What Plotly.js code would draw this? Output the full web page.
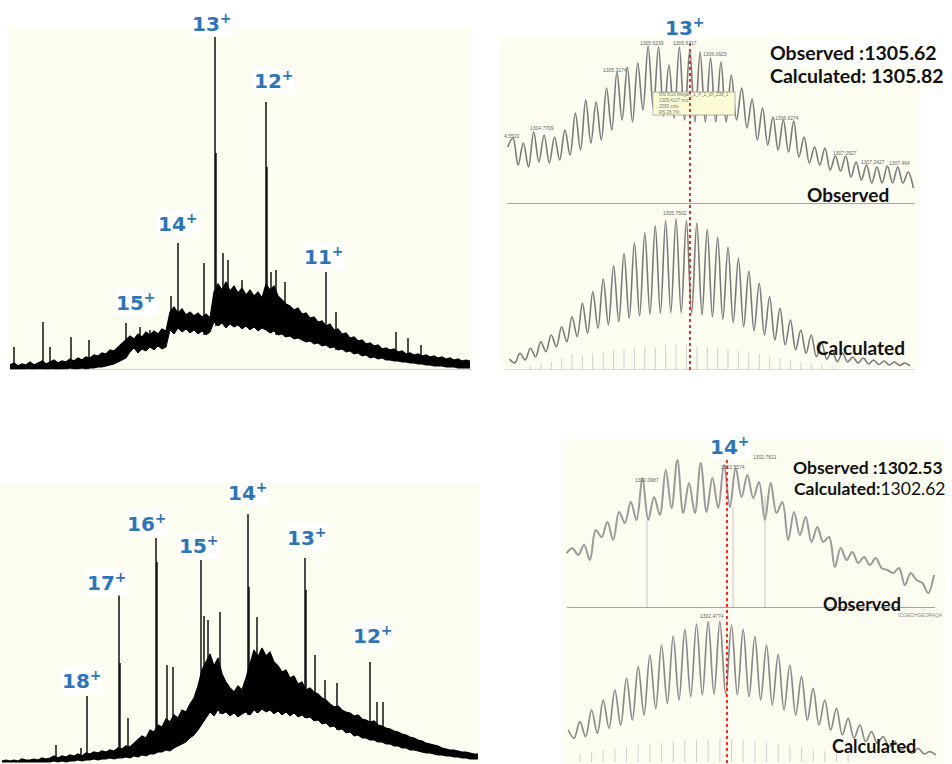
<!DOCTYPE html>
<html><head><meta charset="utf-8">
<script src="https://cdn.plot.ly/plotly-3.0.1.min.js"></script>
<style>html,body{margin:0;padding:0;background:#fff;}#chart{width:952px;height:764px;}</style>
</head><body><div id="chart"></div>
<script>
// ---------- DATA ----------
// Top-left full-scan spectrum: noisy signal band (upper and lower edge) on a regular scan grid
const tlUpper = [5,7,4,6,5,8,5,7,9,6, 8,10,7,9,8,11,9,12,10,13, 12,15,14,17,16,20,19,23,26,30,
  34,31,36,33,38,35,39,36,41,39, 58,63,57,61,55,58,54,57,53,56, 52,78,86,80,88,79,84,77,82,75,
  80,74,78,72,86,80,84,74,70,66, 64,60,62,56,57,52,53,48,49,44, 46,40,41,36,37,32,33,29,30,26,
  27,24,25,21,22,20,21,18,19,16, 17,15,16,14,15,13,14,12,13,11, 12,10,11,9,10,9];
const tlLower = [1,0,1,0,1,1,0,1,1,0, 1,1,0,1,1,2,1,1,2,1, 2,2,3,3,4,5,6,8,10,12,
  18,22,17,21,19,23,20,24,21,23, 40,36,42,38,41,37,40,36,39,35, 38,48,44,47,42,46,43,45,41,44,
  40,43,39,42,40,37,39,35,36,33, 34,31,32,30,28,29,26,27,24,25, 22,23,20,21,18,19,16,17,14,15,
  12,13,11,12,10,10,9,9,8,8, 7,7,6,6,5,5,4,4,4,3, 3,3,2,2,2,2];
const tlPeakX   = [126,178,215,266,326, 14,43,50,71,89, 140,150,154,171,204, 216,223,228,242,267, 271,276,285,336,396, 408,421];
const tlPeakInt = [47,127,333,268,98, 23,48,23,33,30, 43,40,38,74,107, 217,117,110,90,203, 98,100,88,58,38, 32,25];
const tlCharge  = [15,14,13,12,11];

// Bottom-left full-scan spectrum
const blUpper = [1,2,1,2,1,3,2,2,3,2, 4,3,4,6,4,6,5,7,6,8, 6,9,8,10,9,11,10,12,11,14,
  13,16,15,19,22,26,24,32,30,37, 35,43,40,47,44,52,50,58,64,76, 92,100,108,96,104,88,80,74,70,76,
  72,84,98,112,105,114,106,110,100,96, 90,92,84,86,78,80,72,74,70,68, 64,62,58,55,56,52,50,49,46,47,
  43,42,40,41,37,36,34,33,31,30, 28,27,25,24,22,21,19,18,17,16, 14,13,12,12,11,10,10,9,8,8];
const blLower = [0,0,0,0,0,0,0,0,0,0, 0,0,0,1,0,1,0,1,1,2, 1,2,2,3,2,3,3,4,3,4,
  4,5,4,6,5,7,6,8,8,10, 10,12,11,14,16,18,20,24,27,32, 38,44,50,46,52,48,50,46,49,45,
  48,50,47,52,49,53,50,52,48,51, 47,50,46,49,45,47,44,45,41,42, 38,39,35,36,32,33,29,30,26,27,
  24,24,22,22,20,20,18,18,16,16, 14,14,12,12,11,10,9,9,8,7, 7,6,6,5,5,4,4,3,3,3];
const blPeakX   = [87,119,156,201,248,305,370, 128,167,173,204,208,220,257,315,325,337,377,383,56,81,448,249,157,306,120];
const blPeakInt = [66,170,224,202,248,204,100, 44,97,95,146,142,150,145,107,82,79,60,60,17,14,12,175,200,172,99];
const blCharge  = [18,17,16,15,14,13,12];

// Top-right: 13+ isotope envelope (alternating maxima / minima, step = half isotope spacing)
const trObservedMz = 1305.62;
const trCalculatedMz = 1305.82;
const trObsStart = 1304.272, trCalcStart = 1304.286, trStep = 0.03846;
const trObserved = [57, 66,39,61,37,72,42,69,41,67,44,74,49,91,54,104,61,102,64,116,74,132,84,137,82,141,94,
  158,95,157,88,139,86,157,84,154,82,152,82,146,82,142,82,129,84,116,76,105,64,96,59,87,54,84,52,83,47,
  67,41,57,39,56,34,48,33,48,27,42,24,39,21,37,21,38,21,37,21,32,16];
const trCalculated = [11,7,16.7,10,21.7,13.3,28.3,18.3,35,23.3,43.3,28.3,53.3,33.3,66.7,36.7,78.3,41.7,91,45,
  104.3,48.3,116.7,51.7,127.3,54,137.3,55.7,144.3,56.7,149.3,57.3,151,57.3,149.3,56.7,146.7,55,140.7,53.3,
  132.7,50.7,122.7,47.3,111.7,43.3,99,39.3,86.7,35,73.3,30,61.7,25,50,20,40,16.7,35,13.3,26.7,10.7,20,8.3,
  17,8,13,7,12,6,10,5.5,9,5,8,4.5,7,4];
const trStickMz = [1304.440,1304.517,1304.594,1304.671,1304.748,1304.824,1304.901,1304.978,1305.055,1305.132,
  1305.209,1305.286,1305.363,1305.440,1305.517,1305.594,1305.671,1305.748,1305.825,1305.901,
  1305.978,1306.055,1306.132,1306.209,1306.286,1306.363,1306.440,1306.517,1306.594,1306.671];
const trStickInt = [4,6.7,8,11.7,16,15,16.7,18.3,20,20.7,21.7,23.3,23.3,25,26,25,23.3,23.3,21.7,20.7,
  19.3,17.3,16,13.3,11.7,10,7.7,6.7,5,4];
const trObsLabelMz   = [1304.303,1304.525,1305.065,1305.339,1305.583,1305.805,1306.337,1306.766,1306.974,1307.173];
const trObsLabelInt  = [68,76,134,161,161,150,86,51,42,41];
const trObsLabelText = ['4.5520','1304.7709','1305.3174','1305.6239','1305.6717','1306.0923','1306.6274','1307.0927','1307.2427','1307.464'];
const trCalcLabel = {mz: 1305.509, int: 157, text: '1305.7502'};
const trTooltip = ['MS 5/19 Megan_1_P_2_ch_238_1', '1305.4127 m/z', '2583 cnts', 'RS 28.7%'];
const trTooltipMz = [1305.346, 1305.953], trTooltipInt = [89, 112];

// Bottom-right: 14+ isotope envelope
const brObservedMz = 1302.53;
const brCalculatedMz = 1302.62;
const brObsStart = 1301.548, brCalcStart = 1301.558, brStep = 0.03571;
const brObserved = [54.7,59.7,53,63,48,78,71,86,68,96, 85,106,88,130,88,111,93,138,100,148,
  95,125,95,145,96,130,100,143,101,140, 111,133,110,126,88,125,95,106,68,96,
  73,91,66,81,66,71,41,60,48,56, 45,51,43,50,40,38,35,40,23,35, 28,25,15,33];
const brCalculated = [32,23.7,40.3,25.3,52,28.7,62,33.7,72,37,83.7,42,95.3,47,107,53.7,117,58.7,126,62,
  132.7,65.3,138,67,140.3,68,140.3,68,137,67,132.7,65.3,125.3,62,117,57,107.7,52,97,47,85.3,42,73.7,37,
  62,32,53.7,27,43.7,23.7,37,20.3,30.3,18.7,25.3,15.3,20.3,12,15.3,8.7,13.7,8,10.3,7];
const brStickMz = [1301.629,1301.701,1301.772,1301.844,1301.915,1301.986,1302.058,1302.129,1302.201,1302.272,
  1302.344,1302.415,1302.487,1302.558,1302.629,1302.701,1302.772,1302.844,1302.915,1302.987,
  1303.058,1303.130,1303.201,1303.272];
const brStickInt = [8,10.3,12,13.7,15.3,17,18.7,19.3,20.3,22,22,22.7,23.7,22,22,20.3,19.3,18,16.3,15.3,12.7,11.3,9.3,8];
const brLabelMz = [1302.04, 1302.567, 1302.763];
const brLabelLineInt = [88, 101, 111];
const brLabelText = ['1302.0987','1302.5574','1302.7621'];
const brCalcLabel = {mz: 1302.438, int: 146, text: '1302.4774'};

// ---------- BUILD ----------
const W = 952, H = 764;
const px = v => v / W, py = v => (H - v) / H;
function sticks(xs, hs, baseFn) {
  const x = [], y = [];
  xs.forEach((v, i) => { x.push(v, v, null); y.push(baseFn ? baseFn(v) : 0, hs[i], null); });
  return {x, y};
}
function lookup(arr, x0, dx) {
  return v => { const i = Math.max(0, Math.min(arr.length - 1, Math.round((v - x0) / dx))); return arr[i]; };
}
const BLUE = '#2e75b6';
const traces = [];
function band(lower, upper, x0, dx, xa, ya) {
  traces.push({type:'scatter', mode:'lines', x0, dx, y:lower, xaxis:xa, yaxis:ya, line:{color:'#000', width:1}});
  traces.push({type:'scatter', mode:'lines', x0, dx, y:upper, xaxis:xa, yaxis:ya,
    fill:'tonexty', fillcolor:'#000', line:{color:'#000', width:1.2}});
}
// top-left
band(tlLower, tlUpper, 10, 4, 'x', 'y');
let s = sticks(tlPeakX, tlPeakInt, lookup(tlLower, 10, 4));
traces.push({type:'scatter', mode:'lines', x:s.x, y:s.y, xaxis:'x', yaxis:'y', line:{color:'#000', width:1.4}});
// bottom-left
band(blLower, blUpper, 2, 4, 'x3', 'y4');
s = sticks(blPeakX, blPeakInt, lookup(blLower, 2, 4));
traces.push({type:'scatter', mode:'lines', x:s.x, y:s.y, xaxis:'x3', yaxis:'y4', line:{color:'#000', width:1.4}});
// top-right
s = sticks(trStickMz, trStickInt);
traces.push({type:'scatter', mode:'lines', x:s.x, y:s.y, xaxis:'x2', yaxis:'y3', line:{color:'#cfcfcf', width:1}});
traces.push({type:'scatter', mode:'lines', x0:trObsStart, dx:trStep, y:trObserved, xaxis:'x2', yaxis:'y2',
  line:{color:'#7a7a7a', width:1.6, shape:'spline', smoothing:1}});
traces.push({type:'scatter', mode:'lines', x0:trCalcStart, dx:trStep, y:trCalculated, xaxis:'x2', yaxis:'y3',
  line:{color:'#7a7a7a', width:1.6, shape:'spline', smoothing:1}});
// bottom-right
s = sticks(brStickMz, brStickInt);
traces.push({type:'scatter', mode:'lines', x:s.x, y:s.y, xaxis:'x4', yaxis:'y6', line:{color:'#d0d0d0', width:1}});
s = sticks(brLabelMz, brLabelLineInt);
traces.push({type:'scatter', mode:'lines', x:s.x, y:s.y, xaxis:'x4', yaxis:'y5', line:{color:'#c8c8c8', width:1}});
traces.push({type:'scatter', mode:'lines', x0:brObsStart, dx:brStep, y:brObserved, xaxis:'x4', yaxis:'y5',
  line:{color:'#9a9a9a', width:2, shape:'spline', smoothing:1}});
traces.push({type:'scatter', mode:'lines', x0:brCalcStart, dx:brStep, y:brCalculated, xaxis:'x4', yaxis:'y6',
  line:{color:'#8a8a8a', width:1.7, shape:'spline', smoothing:1}});

function ax(domain, range, anchor) {
  return {domain, range, anchor, visible:false, fixedrange:true, showgrid:false, zeroline:false};
}
const annotations = [];
function charge(z, xref, yref, x, y, xs, ys) {
  annotations.push({xref, yref, x, y, xshift:xs, yshift:ys, xanchor:'center', yanchor:'middle', showarrow:false,
    text:'<b>'+z+'<sup>+</sup></b>', font:{family:'DejaVu Sans', size:20, color:BLUE}, bgcolor:'#ffffff', borderpad:0});
}
const tlShift = [[10,21],[0,20],[-3,14],[8,22],[-2,16]];
tlCharge.forEach((z,i) => charge(z, 'x', 'y', tlPeakX[i], tlPeakInt[i], tlShift[i][0], tlShift[i][1]));
const blShift = [[-5,16],[-12,10],[-9,15],[-2,15],[0,22],[2,21],[3,27]];
blCharge.forEach((z,i) => charge(z, 'x3', 'y4', blPeakX[i], blPeakInt[i], blShift[i][0], blShift[i][1]));
charge(13, 'x2', 'paper', trObservedMz, py(27), -5, 0);
charge(14, 'x4', 'paper', brObservedMz, py(446), 3, 0);

function txt(text, x, y, size, opts) {
  annotations.push(Object.assign({xref:'paper', yref:'paper', x, y, xanchor:'center', yanchor:'middle',
    showarrow:false, text, font:{family:'Lato', size, color:'#111'}}, opts || {}));
}
txt('<b>Observed :'+trObservedMz.toFixed(2)+'</b>', px(853), py(52), 19.5, {bgcolor:'#ffffff'});
txt('<b>Calculated: '+trCalculatedMz.toFixed(2)+'</b>', px(857), py(75), 19.5);
txt('<b>Observed</b>', px(848), py(195), 19);
txt('<b>Calculated</b>', px(860), py(347), 19);
txt('<b>Observed :'+brObservedMz.toFixed(2)+'</b>', px(868), py(467), 17.5);
txt('<b>Calculated:</b>'+brCalculatedMz.toFixed(2), px(869), py(488), 17.5);
txt('<b>Observed</b>', px(862), py(604), 18);
txt('<b>Calculated</b>', px(874), py(746), 18);
txt('ICGECHGEOPAQA', px(920), py(615), 5, {font:{family:'Liberation Sans', size:5, color:'#888'}});

const tiny = {family:'Liberation Sans', size:5, color:'#666'};
trObsLabelMz.forEach((m,i) => annotations.push({xref:'x2', yref:'y2', x:m, y:trObsLabelInt[i], yshift:0,
  xanchor:'center', yanchor:'middle', showarrow:false, text:trObsLabelText[i], font:tiny}));
annotations.push({xref:'x2', yref:'y3', x:trCalcLabel.mz, y:trCalcLabel.int, xanchor:'center', yanchor:'middle',
  showarrow:false, text:trCalcLabel.text, font:tiny});
annotations.push({xref:'x2', yref:'y2', x:(trTooltipMz[0]+trTooltipMz[1])/2, y:(trTooltipInt[0]+trTooltipInt[1])/2,
  xanchor:'center', yanchor:'middle', showarrow:false, text:trTooltip.join('<br>'), align:'left',
  font:{family:'Liberation Sans', size:4.5, color:'#777'}});
brLabelMz.forEach((m,i) => annotations.push({xref:'x4', yref:'y5', x:m, y:brLabelLineInt[i], yshift:40,
  xanchor:'center', yanchor:'middle', showarrow:false, text:brLabelText[i], font:tiny}));
annotations.push({xref:'x4', yref:'y6', x:brCalcLabel.mz, y:brCalcLabel.int, xanchor:'center', yanchor:'middle',
  showarrow:false, text:brCalcLabel.text, font:tiny});

const shapes = [
  {type:'line', xref:'x domain', yref:'y', x0:0, x1:1, y0:0, y1:0, line:{color:'#c4c4c4', width:1.5}},
  {type:'line', xref:'x2 domain', yref:'y2', x0:0.017, x1:0.988, y0:0, y1:0, line:{color:'#9b9be8', width:1.8}},
  {type:'line', xref:'x2 domain', yref:'y3', x0:0.012, x1:0.988, y0:0, y1:0, line:{color:'#bdbdbd', width:1.2}},
  {type:'line', xref:'x4 domain', yref:'y5', x0:0.013, x1:0.974, y0:0, y1:0, line:{color:'#9b9be8', width:1.8}},
  {type:'rect', xref:'x2', yref:'y2', x0:trTooltipMz[0], x1:trTooltipMz[1], y0:trTooltipInt[0], y1:trTooltipInt[1],
    fillcolor:'#fdfbd6', line:{color:'#a0a0a0', width:0.8}, layer:'above'},
  {type:'line', xref:'x2', yref:'paper', x0:trObservedMz, x1:trObservedMz, y0:py(370), y1:py(40),
    line:{color:'#e3302b', width:2, dash:'dot'}},
  {type:'line', xref:'x4', yref:'paper', x0:brObservedMz, x1:brObservedMz, y0:py(763), y1:py(453),
    line:{color:'#e3302b', width:2, dash:'dot'}}
];

const layout = {
  width:W, height:H, margin:{l:0,r:0,t:0,b:0}, showlegend:false,
  paper_bgcolor:'#ffffff', plot_bgcolor:'#fdfcf1',
  xaxis:  ax([px(10), px(472)], [10, 472], 'y'),
  yaxis:  ax([py(370), py(28)], [0, 342], 'x'),
  xaxis2: ax([px(500), px(920)], [1304.215, 1307.321], 'y3'),
  yaxis2: ax([py(204), py(36)], [0, 168], 'x2'),
  yaxis3: ax([py(370), py(204)], [0, 166], 'x2'),
  xaxis3: ax([0, px(480)], [0, 480], 'y4'),
  yaxis4: ax([0, py(483)], [-2, 279], 'x3'),
  xaxis4: ax([px(562), px(945)], [1301.520, 1303.865], 'y6'),
  yaxis5: ax([py(608), py(440)], [0, 168], 'x4'),
  yaxis6: ax([0, py(608)], [-2, 154], 'x4'),
  shapes, annotations
};
Plotly.newPlot('chart', traces, layout, {staticPlot:true, displayModeBar:false});
</script></body></html>
